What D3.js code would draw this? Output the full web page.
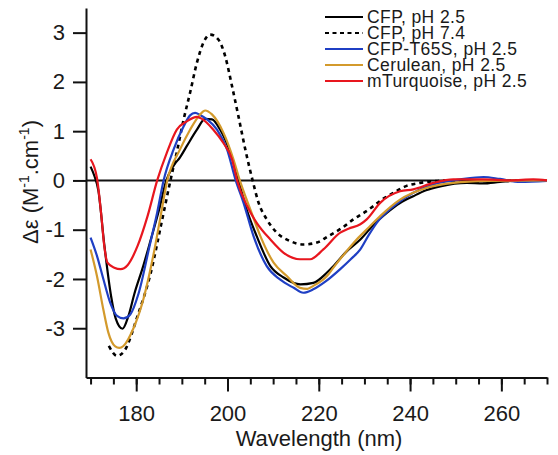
<!DOCTYPE html>
<html>
<head>
<meta charset="utf-8">
<script src="https://cdn.jsdelivr.net/npm/d3@7"></script>
<style>
	body { margin: 0; background: #fff; }
	text { font-family: "Liberation Sans", Arial, sans-serif; fill: #1a1a1a; }
</style>
</head>
<body>
<svg id="chart" width="558" height="455"></svg>
<script>
// CD spectra, wavelength (nm) / delta epsilon
let cfp25_wl = [170, 170.8, 171.7, 173, 174.5, 175.5, 177, 178.3, 179.6, 181.5, 183.2, 185, 186.6, 188.2, 189.6, 191.1, 193.3, 195.1, 196.6, 198.4, 200.6, 202.4, 204.2, 206.4, 209.4, 212.3, 216, 218.8, 221.8, 223.2, 226, 229.1, 232, 234.9, 237.8, 240.7, 243.5, 246.6, 252.4, 256, 259.7, 265, 270];
let cfp25_val = [0.28, 0.1, -0.2, -1.3, -2.35, -2.8, -3.01, -2.75, -2.3, -1.75, -1.2, -0.6, 0, 0.3, 0.47, 0.7, 1.03, 1.25, 1.24, 1.03, 0.57, 0, -0.59, -1.13, -1.74, -1.97, -2.11, -2.08, -1.87, -1.74, -1.45, -1.2, -0.9, -0.66, -0.46, -0.32, -0.2, -0.12, -0.05, -0.06, -0.03, 0, -0.01];

let cfp74_wl = [174, 175.8, 177.4, 180.3, 183.2, 185.5, 187.5, 189, 190.4, 191.8, 193.3, 194.7, 196.2, 198, 199.5, 201, 202.4, 203.9, 205.5, 206.8, 208.6, 210.8, 213.7, 216.6, 219.6, 222.1, 225, 227.6, 230, 232, 234, 236.4, 239, 242.2, 246, 250, 255, 260, 265, 270];
let cfp74_val = [-3.36, -3.56, -3.46, -2.75, -1.87, -0.88, 0, 0.62, 1.24, 1.78, 2.39, 2.79, 2.96, 2.86, 2.52, 1.91, 1.3, 0.63, 0, -0.45, -0.79, -1.06, -1.23, -1.3, -1.26, -1.13, -0.97, -0.79, -0.65, -0.52, -0.38, -0.25, -0.12, -0.05, -0.01, 0, -0.02, 0, 0, 0];

let t65s_wl = [170, 171.4, 172.8, 174.3, 175.8, 177.2, 178.7, 180.5, 183, 184.6, 186, 188.2, 190.4, 191.8, 192.9, 194, 195.5, 197.7, 199.9, 201.8, 203.5, 205.7, 208.6, 211.5, 214.5, 216.6, 218.8, 221.5, 224.7, 227, 229.1, 231, 232.7, 236.4, 240.7, 245.1, 251, 256.1, 259.7, 264.1, 270];
let t65s_val = [-1.16, -1.53, -2.0, -2.48, -2.75, -2.8, -2.72, -2.3, -1.3, -0.65, 0, 0.63, 1.1, 1.32, 1.37, 1.33, 1.24, 1.03, 0.63, 0, -0.45, -1.13, -1.74, -2.01, -2.18, -2.28, -2.21, -2.05, -1.8, -1.6, -1.4, -1.1, -0.86, -0.52, -0.25, -0.08, 0.02, 0.07, 0.03, -0.03, -0.01];

let cerulean_wl = [170, 171.4, 172.8, 173.9, 175.4, 176.3, 177.2, 179.4, 181.6, 183.8, 185.3, 186.8, 189.6, 191.8, 194, 195.1, 196.6, 199.1, 201.3, 202.7, 205, 207.2, 210.1, 213, 215.9, 217.5, 218.8, 221.8, 223.2, 225.7, 228.3, 231, 233.5, 237.8, 243.7, 249.5, 256.8, 270];
let cerulean_val = [-1.4, -1.94, -2.62, -3.09, -3.37, -3.4, -3.36, -3.0, -2.4, -1.5, -0.75, 0, 0.63, 1.03, 1.34, 1.42, 1.34, 0.97, 0.43, 0, -0.59, -1.13, -1.67, -1.94, -2.18, -2.2, -2.14, -1.94, -1.77, -1.48, -1.2, -0.95, -0.72, -0.39, -0.15, -0.05, -0.01, 0];

let mturq_wl = [170, 171.4, 172.3, 173, 173.7, 175.2, 176.6, 178.1, 180.3, 182.5, 184.6, 186.7, 188.9, 191.1, 193.3, 194.4, 196.9, 199.1, 201, 202.1, 204.3, 206.4, 209.4, 212.3, 215.9, 218.1, 221, 224.7, 226.5, 229.1, 230.5, 233.5, 237.8, 240.7, 245.1, 249.5, 256.1, 262, 267, 270];
let mturq_val = [0.43, 0.05, -0.66, -1.33, -1.67, -1.77, -1.8, -1.72, -1.33, -0.72, 0, 0.56, 1.03, 1.2, 1.29, 1.25, 1.03, 0.76, 0.43, 0, -0.52, -0.86, -1.2, -1.47, -1.6, -1.6, -1.4, -1.06, -0.98, -0.89, -0.79, -0.45, -0.22, -0.18, -0.05, 0.02, 0.02, 0, 0.02, 0];

let seriesNames = ["CFP, pH 2.5", "CFP, pH 7.4", "CFP-T65S, pH 2.5", "Cerulean, pH 2.5", "mTurquoise, pH 2.5"];
let seriesColors = ["#000000", "#000000", "#1f3fc4", "#d39a2c", "#e8161e"];
let seriesDash = [null, "4,4", null, null, null];

let xMajorTicks = [180, 200, 220, 240, 260];
let xMinorTicks = d3.range(170, 271, 5);
let yTicks = [-3, -2, -1, 0, 1, 2, 3];

let seriesData = [
	[cfp25_wl, cfp25_val],
	[cfp74_wl, cfp74_val],
	[t65s_wl, t65s_val],
	[cerulean_wl, cerulean_val],
	[mturq_wl, mturq_val]
].map(p => p[0].map((w, i) => ({ wl: w, v: p[1][i] })));

let svg = d3.select("#chart");

let x = d3.scaleLinear().domain([169, 270]).range([86, 547]);
let y = d3.scaleLinear().domain([-4, 3.5]).range([377.5, 8]);

//zero line
svg.append("line")
	.attr("x1", x(169)).attr("x2", x(270))
	.attr("y1", y(0)).attr("y2", y(0))
	.attr("stroke", "#111")
	.attr("stroke-width", 2);

//curves
let line = d3.line()
	.x(d => x(d.wl))
	.y(d => y(d.v))
	.curve(d3.curveMonotoneX);

for (let k = 0; k < seriesData.length; k++)
{
	svg.append("path")
		.datum(seriesData[k])
		.attr("fill", "none")
		.attr("stroke", seriesColors[k])
		.attr("stroke-width", k == 1 ? 2.6 : 2.2)
		.attr("stroke-dasharray", seriesDash[k])
		.attr("stroke-linejoin", "round")
		.attr("d", line);
}

//x-axis: minor then major ticks
svg.append("g")
	.attr("transform", "translate(0," + y(-4) + ")")
	.call(d3.axisBottom(x).tickValues(xMinorTicks).tickSize(7).tickSizeOuter(0).tickFormat(""))
	.call(g => g.selectAll("line").attr("stroke", "#111").attr("stroke-width", 2))
	.call(g => g.select(".domain").attr("stroke", "#111").attr("stroke-width", 2));

svg.append("g")
	.attr("transform", "translate(0," + y(-4) + ")")
	.call(d3.axisBottom(x).tickValues(xMajorTicks).tickSize(14).tickSizeOuter(0).tickPadding(14).tickFormat(d => String(d)))
	.call(g => g.select(".domain").remove())
	.call(g => g.selectAll("line").attr("stroke", "#111").attr("stroke-width", 2))
	.call(g => g.selectAll("text").attr("font-size", 22).attr("font-family", null));

//y-axis
svg.append("g")
	.attr("transform", "translate(" + x(169) + ",0)")
	.call(d3.axisLeft(y).tickValues(yTicks).tickSize(13).tickSizeOuter(0).tickPadding(8).tickFormat(d => String(d)))
	.call(g => g.select(".domain").attr("stroke", "#111").attr("stroke-width", 2))
	.call(g => g.selectAll("line").attr("stroke", "#111").attr("stroke-width", 2))
	.call(g => g.selectAll("text").attr("font-size", 22).attr("font-family", null));

//axis titles
svg.append("text")
	.attr("x", 319)
	.attr("y", 446)
	.attr("text-anchor", "middle")
	.attr("font-size", 22)
	.text("Wavelength (nm)");

let yTitle = svg.append("text")
	.attr("transform", "translate(38,182) rotate(-90)")
	.attr("text-anchor", "middle")
	.attr("font-size", 22);
yTitle.append("tspan").text("\u0394\u03b5 (M");
yTitle.append("tspan").attr("font-size", 14).attr("dy", -9).text("-1");
yTitle.append("tspan").attr("dy", 9).text(".cm");
yTitle.append("tspan").attr("font-size", 14).attr("dy", -9).text("-1");
yTitle.append("tspan").attr("dy", 9).text(")");

//legend
let legend = svg.append("g");
for (let i = 0; i < seriesNames.length; i++)
{
	let ly = 17 + i * 16;
	legend.append("line")
		.attr("x1", 325).attr("x2", 363)
		.attr("y1", ly).attr("y2", ly)
		.attr("stroke", seriesColors[i])
		.attr("stroke-width", 2.2)
		.attr("stroke-dasharray", seriesDash[i] ? "4,3.5" : null);
	legend.append("text")
		.attr("x", 367)
		.attr("y", ly + 6)
		.attr("font-size", 17.5)
		.attr("letter-spacing", 0.4)
		.text(seriesNames[i]);
}
</script>
</body>
</html>
